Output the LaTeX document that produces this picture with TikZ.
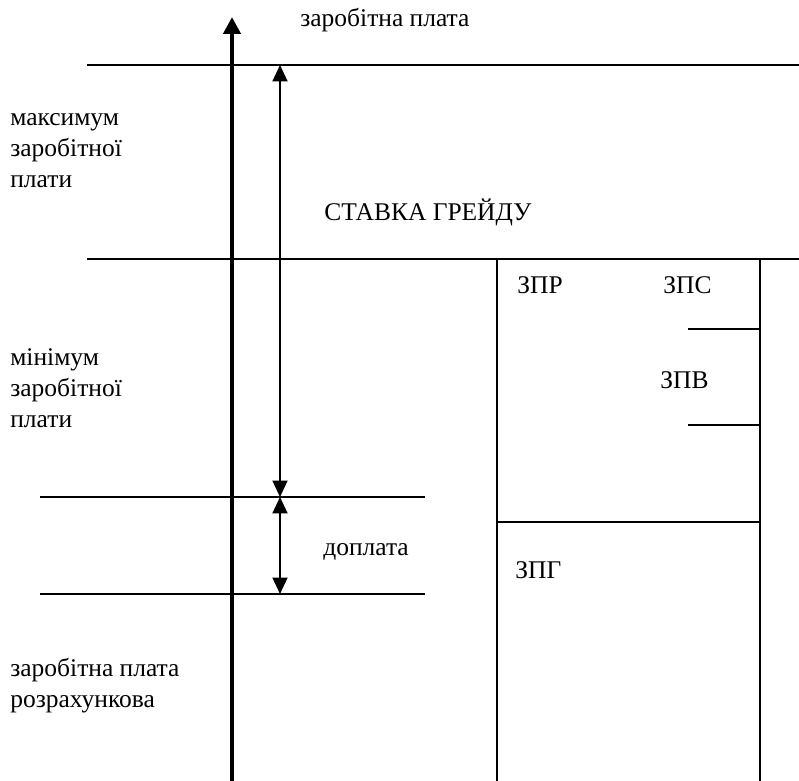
\documentclass[tikz,border=0pt]{standalone}
\usepackage{fontspec}
\setmainfont{Liberation Serif}
\usetikzlibrary{arrows.meta}

\begin{document}
\begin{tikzpicture}[x=0.02cm, y=-0.02cm,
  every node/.style={font=\fontsize{14.5}{17.5}\selectfont, inner sep=0pt, anchor=base west},
  thinline/.style={line width=1.1pt},
  dimarrow/.style={line width=1.1pt, {Triangle[length=0.33cm,width=0.3cm]}-{Triangle[length=0.33cm,width=0.3cm]}}]
\useasboundingbox (0,0) rectangle (799,781);

% levels
\coordinate (maxl) at (87,65);   \coordinate (maxr) at (799,65);
\coordinate (minl) at (87,259);  \coordinate (minr) at (799,259);
\coordinate (tarl) at (40,497);  \coordinate (tarr) at (425,497);
\coordinate (rozl) at (40,594);  \coordinate (rozr) at (425,594);
\draw[thinline] (maxl) -- (maxr);
\draw[thinline] (minl) -- (minr);
\draw[thinline] (tarl) -- (tarr);
\draw[thinline] (rozl) -- (rozr);

% axis
\coordinate (axbot) at (232,781);
\coordinate (axtop) at (232,17);
\draw[line width=2.8pt, -{Triangle[length=0.34cm,width=0.34cm]}] (axbot) -- (axtop);

% grade range and supplement
\coordinate (ga) at (280,65);
\coordinate (gb) at (280,497);
\coordinate (gc) at (280,594);
\draw[dimarrow] (ga) -- (gb);
\draw[dimarrow] (gb) -- (gc);

% pay structure box
\coordinate (bxtl) at (497,259); \coordinate (bxbl) at (497,781);
\coordinate (bxtr) at (760,259); \coordinate (bxbr) at (760,781);
\coordinate (bxml) at (497,522); \coordinate (bxmr) at (760,522);
\coordinate (sca) at (688,329);  \coordinate (scb) at (760,329);
\coordinate (sva) at (688,425);  \coordinate (svb) at (760,425);
\draw[thinline] (bxtl) -- (bxbl);
\draw[thinline] (bxtr) -- (bxbr);
\draw[thinline] (bxml) -- (bxmr);
\draw[thinline] (sca) -- (scb);
\draw[thinline] (sva) -- (svb);

% labels
\node (title) at (300,27) {заробітна плата};
\node[align=left] (maxzp) at (10,187) {максимум\\заробітної\\плати};
\node[align=left] (minzp) at (10,427) {мінімум\\заробітної\\плати};
\node[align=left] (rozzp) at (10,707) {заробітна плата\\розрахункова};
\node (grade) at (324,220) {СТАВКА ГРЕЙДУ};
\node (dopl) at (323,555) {доплата};
\node (zpr) at (517,293) {ЗПР};
\node (zps) at (663,293) {ЗПС};
\node (zpv) at (660,388) {ЗПВ};
\node (zpg) at (515,578) {ЗПГ};
\end{tikzpicture}
\end{document}
